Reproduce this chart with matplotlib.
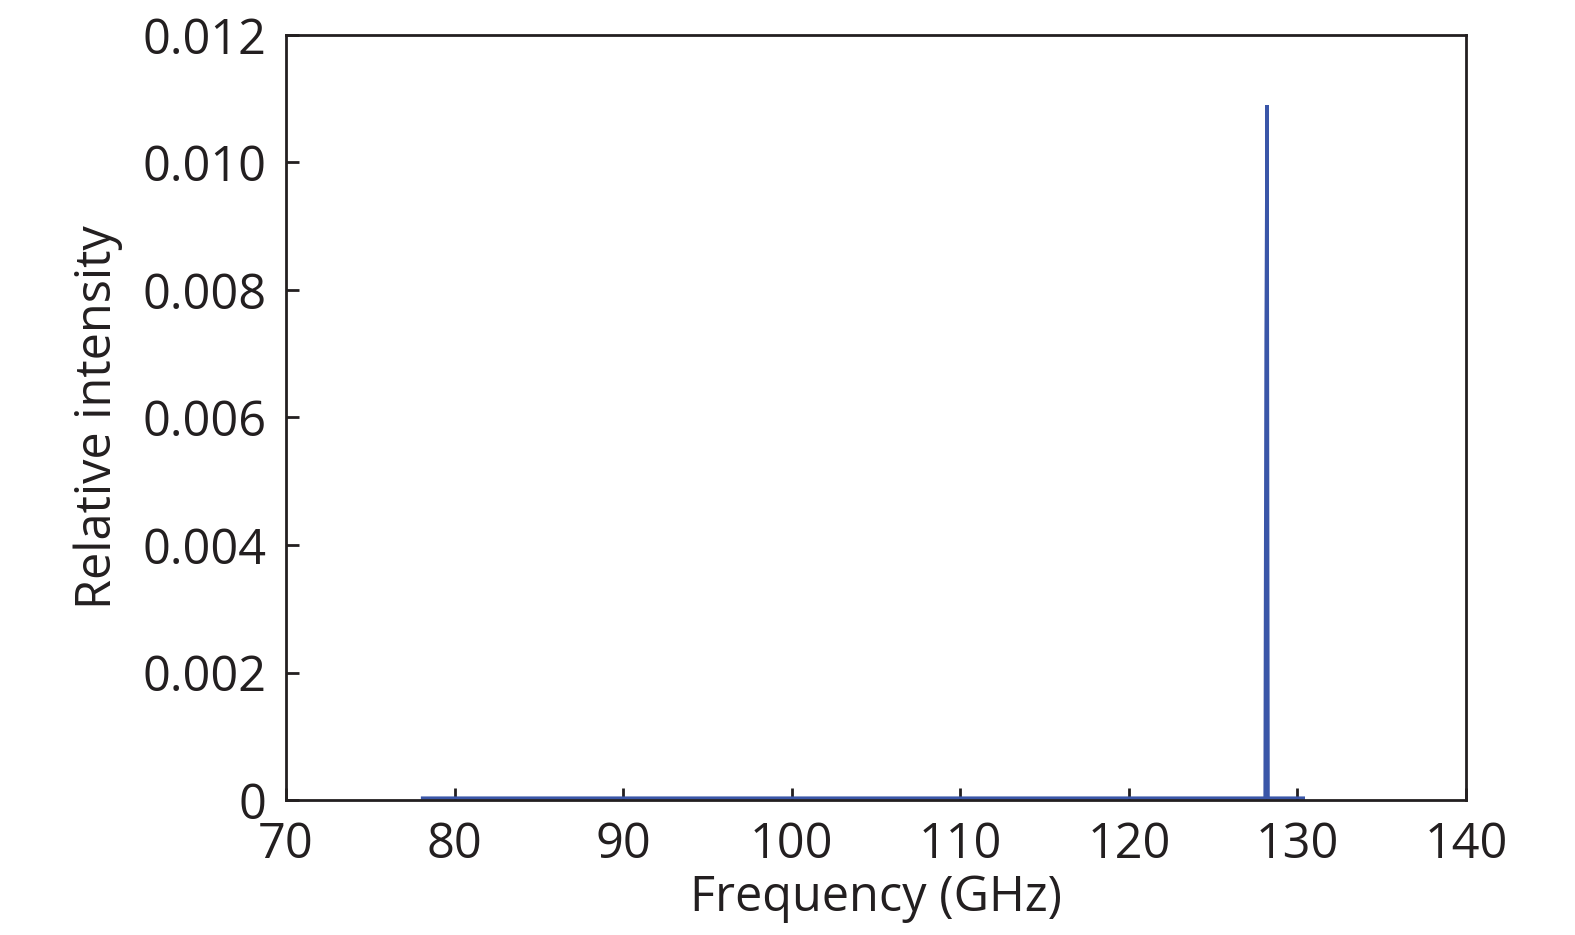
import matplotlib.pyplot as plt
import numpy as np

plt.rcParams['font.family'] = ['Open Sans', 'DejaVu Sans']

# spectrum
freq = [78.1, 128.08, 128.14, 128.2, 128.26, 130.35]
intensity = [0.00003, 0.00003, 0.0072, 0.0109, 0.00003, 0.00003]

xticks = [70, 80, 90, 100, 110, 120, 130, 140]
yticks = [0, 0.002, 0.004, 0.006, 0.008, 0.010, 0.012]
ylabels = ['0', '0.002', '0.004', '0.006', '0.008', '0.010', '0.012']

fig = plt.figure(figsize=(15.75, 9.35), dpi=100)
ax = fig.add_axes([286 / 1575, 1 - 800 / 935, 1180 / 1575, 765 / 935])

ax.plot(freq, intensity, color='#3a56a8', linewidth=2.4, solid_joinstyle='miter')

ax.set_xlim(70, 140)
ax.set_ylim(0, 0.012)
ax.set_xticks(xticks)
ax.set_yticks(yticks)
ax.set_yticklabels(ylabels)
ax.tick_params(direction='in', length=9, width=2, labelsize=35, color='#231f20',
               labelcolor='#231f20')
ax.tick_params(axis='x', pad=15)
ax.tick_params(axis='y', pad=14)
for s in ax.spines.values():
    s.set_linewidth(2)
    s.set_color('#231f20')

ax.set_xlabel('Frequency (GHz)', fontsize=35, color='#231f20', labelpad=2)
ax.set_ylabel('Relative intensity', fontsize=35, color='#231f20', labelpad=14)

plt.savefig('out.png', dpi=100)
plt.close()
